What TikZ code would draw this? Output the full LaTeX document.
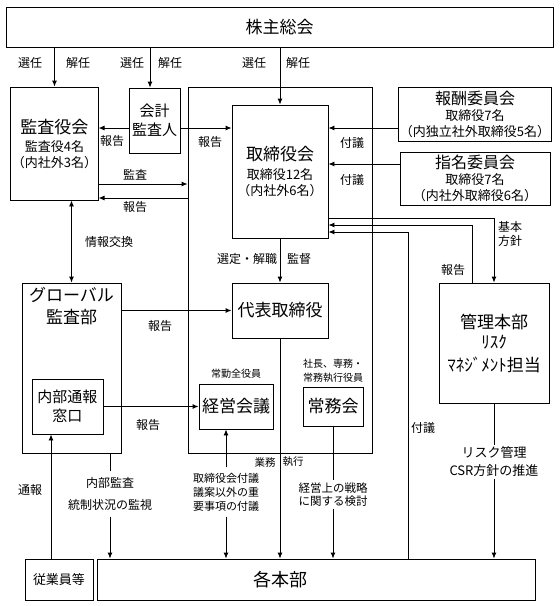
\documentclass[tikz,border=0pt]{standalone}
\usepackage{fontspec}
\setmainfont{Noto Sans CJK JP}
\usetikzlibrary{arrows.meta,positioning,calc}
\newcommand\fntbig{\fontsize{17}{19}\selectfont}
\newcommand\fntcom{\fontsize{16}{18}\selectfont}
\newcommand\fntmid{\fontsize{15}{19}\selectfont}
\newcommand\fntsub{\fontsize{13}{16}\selectfont}
\newcommand\fntlab{\fontsize{12}{14}\selectfont}
\newcommand\fntsml{\fontsize{10}{13}\selectfont}

\begin{document}
\begin{tikzpicture}[x=1pt,y=-1pt,>={Latex[length=6pt,width=5pt]},line width=.9pt,
  box/.style={draw,inner sep=1pt,align=center,font=\fntsub},
  lab/.style={font=\fntlab,inner sep=1pt,align=center},
  gap/.style={lab,inner xsep=2pt}]
  \useasboundingbox (0,0) rectangle (560,606);
  % boxes
  \node[box,minimum width=547pt,minimum height=40pt,font=\fntbig] (kabu)   at (279.5,27)  {株主総会};
  \node[box,minimum width=83pt, minimum height=113pt]             (kansa)  at (54.5,143.5) {{\fntbig 監査役会}\\[2pt]監査役4名\\（内社外3名）};
  \node[box,minimum width=51pt, minimum height=65pt,font=\fntmid] (kaikei) at (154.5,120.5) {会計\\監査人};
  \node[box,minimum width=184pt,minimum height=366pt]             (frame)  at (280,270)   {};
  \node[box,minimum width=96pt, minimum height=133pt]             (tori)   at (280,171.5) {{\fntbig 取締役会}\\[3pt]取締役12名\\（内社外6名）};
  \node[box,minimum width=150pt,minimum height=54pt]              (houshu) at (475,114)   {{\fntcom 報酬委員会}\\取締役7名\\（内独立社外取締役5名）};
  \node[box,minimum width=150pt,minimum height=53pt]              (shimei) at (475,178.5) {{\fntcom 指名委員会}\\取締役7名\\（内社外取締役6名）};
  \node[box,minimum width=96pt, minimum height=55pt,font=\fntbig] (daihyo) at (280,310.5) {代表取締役};
  \node[box,minimum width=74pt, minimum height=45pt,font=\fntbig] (keiei)  at (236,406.5) {経営会議};
  \node[box,minimum width=60pt, minimum height=39pt,font=\fntbig] (jomu)   at (333,406.5) {常務会};
  \node[box,minimum width=110pt,minimum height=120pt,font=\fntbig](kanri)  at (494,343)   {管理本部\\[1pt]ﾘｽｸ\\[4pt]ﾏﾈｼﾞﾒﾝﾄ担当};
  \node[box,minimum width=99pt, minimum height=170pt]             (gkan)   at (71.5,368)  {};
  \node[font=\fntbig,align=center,below=1pt of gkan.north]        (gkant)  {グローバル\\[3pt]監査部};
  \node[box,minimum width=71pt, minimum height=55pt,font=\fntmid] (tsuho)  at (67.5,406.5) {内部通報\\窓口};
  \node[box,minimum width=68pt, minimum height=41pt]              (jugyo)  at (59,579.5)  {従業員等};
  \node[box,minimum width=438pt,minimum height=41pt]              (kaku)   at (316,579.5) {};
  \node[font=\fontsize{18}{20}\selectfont]                        (kakut)  at (280,580)   {各本部};
  \node[font=\fntsml,above=1pt of keiei]                          (keiei-l) {常勤全役員};
  \node[font=\fntsml,align=center,above=0pt of jomu]              (jomu-l)  {社長、専務・\\[1pt]常務執行役員};
  % labels cut into lines
  \node[gap,inner ysep=6pt] (naibu) at (110,493.5) {内部監査\\[8pt]統制状況の監視};
  \node[gap,font=\fontsize{11}{14}\selectfont,inner ysep=5pt] (fugi)  at (226,492)   {取締役会付議\\議案以外の重\\要事項の付議};
  \node[gap,font=\fontsize{11.5}{13}\selectfont,inner ysep=2pt] (senr) at (333,494.5) {経営上の戦略\\に関する検討};
  \node[gap,font=\fontsize{13}{18}\selectfont,inner ysep=2pt] (risk)  at (494,462)   {リスク管理\\CSR方針の推進};
  % helper coordinates
  \coordinate (kx) at (150,0);
  \coordinate (y1) at (0,128);
  \coordinate (y2) at (0,164);
  \coordinate (y3) at (0,184);
  \coordinate (y4) at (0,198);
  \coordinate (y5) at (0,218);
  \coordinate (y6) at (0,225);
  \coordinate (y7) at (0,232);
  \coordinate (x2) at (51,0);
  \coordinate (x3) at (110,0);
  \coordinate (x4) at (226,0);
  \coordinate (x5) at (472,0);
  \coordinate (x6) at (408,0);
  % connectors
  \path[->] (kansa.north |- kabu.south) edge (kansa.north)
            (kabu.south -| kx) edge (kaikei.north -| kx)
            (kabu.south -| tori.north) edge (tori.north)
            (kaikei.west |- y1) edge (kansa.east |- y1)
            (kaikei.east |- y1) edge (tori.west |- y1)
            (houshu.west |- y1) edge (tori.east |- y1)
            (shimei.west |- y2) edge (tori.east |- y2)
            (kansa.east |- y3) edge (frame.west |- y3)
            (frame.west |- y4) edge (kansa.east |- y4)
            (gkan.north) edge[<->] (gkan.north |- kansa.south)
            (tori.south) edge (daihyo.north)
            (gkan.east |- daihyo.west) edge (daihyo.west)
            (tsuho.east |- keiei.west) edge (keiei.west)
            (jugyo.north -| x2) edge (tsuho.south -| x2)
            (naibu.south) edge (kaku.north -| naibu.south)
            (fugi.north) edge (keiei.south -| fugi.north)
            (fugi.south) edge (kaku.north -| fugi.south)
            (daihyo.south) edge (kaku.north -| daihyo.south)
            (senr.south) edge (kaku.north -| senr.south)
            (risk.south) edge (kaku.north -| risk.south);
  \draw (gkan.south -| x3) -- (naibu.north);
  \draw (jomu.south) -- (senr.north);
  \draw (kanri.south) -- (risk.north);
  \draw[->] (tori.east |- y5) -| (kanri.north);
  \draw[->] (kanri.north -| x5) |- (tori.east |- y6);
  \draw[->] (kaku.north -| x6) |- (tori.east |- y7);
  % connector labels
  \node[lab] (l1)  at (30,63)   {選任};
  \node[lab] (l2)  at (78,63)   {解任};
  \node[lab] (l3)  at (132,63)  {選任};
  \node[lab] (l4)  at (170,63)  {解任};
  \node[lab] (l5)  at (254,63)  {選任};
  \node[lab] (l6)  at (298,63)  {解任};
  \node[lab] (l7)  at (112,141) {報告};
  \node[lab] (l8)  at (210,142) {報告};
  \node[lab] (l9)  at (352,143) {付議};
  \node[lab] (l10) at (352,180) {付議};
  \node[lab] (l11) at (135,175) {監査};
  \node[lab] (l12) at (135,207) {報告};
  \node[lab] (l13) at (109,242) {情報交換};
  \node[lab] (l14) at (247,259) {選定・解職};
  \node[lab] (l15) at (299,259) {監督};
  \node[lab] (l16) at (160,326) {報告};
  \node[lab] (l17) at (148,425) {報告};
  \node[lab] (l18) at (30,490)  {通報};
  \node[lab] (l19) at (510,234) {基本\\方針};
  \node[lab] (l20) at (453,270) {報告};
  \node[lab] (l21) at (423,428) {付議};
  \node[lab,font=\fontsize{10.5}{12}\selectfont] (l22) at (265,462) {業務};
  \node[lab,font=\fontsize{10.5}{12}\selectfont] (l23) at (293,462) {執行};
\end{tikzpicture}
\end{document}
